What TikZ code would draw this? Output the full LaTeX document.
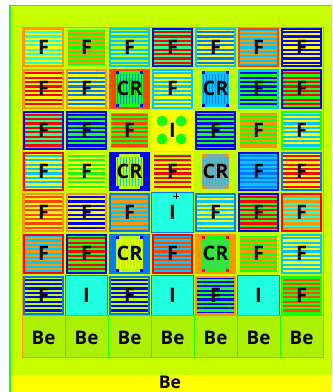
\documentclass[tikz,border=0pt]{standalone}
\usepackage{fontspec}
\setmainfont{Open Sans}

% --- Màu ---
\definecolor{cLime}{RGB}{200,255,0}
\definecolor{cBe}{RGB}{170,240,0}
\definecolor{cAqua}{RGB}{32,255,224}
\definecolor{cSky}{RGB}{0,200,255}
\definecolor{cDodg}{RGB}{0,120,255}
\definecolor{cBlue}{RGB}{0,0,255}
\definecolor{cOred}{RGB}{255,70,0}
\definecolor{cRed}{RGB}{255,0,0}
\definecolor{cOra}{RGB}{255,150,0}
\definecolor{cGrn}{RGB}{20,255,20}
\definecolor{cSgrn}{RGB}{40,255,140}
\definecolor{cYel}{RGB}{255,255,0}
\definecolor{cYgrn}{RGB}{190,255,0}
\definecolor{cGrey}{RGB}{130,170,170}

% --- Ô nhiên liệu ---
\newcommand{\fuelcell}[5]{%
  \pgfmathsetmacro{\xa}{22+(#2-1)*43}%
  \pgfmathsetmacro{\ya}{27+(#1-1)*41.25}%
  \fill[#3] (\xa+1,\ya+1) rectangle (\xa+42,\ya+40.25);
  \fill[#4] (\xa+3,\ya+3) rectangle (\xa+40,\ya+38.25);
  \foreach \k in {0,...,7}
    \fill[#5] (\xa+3,\ya+4+\k*4.4) rectangle (\xa+40,\ya+6.2+\k*4.4);
  \node[lbl] (f#1#2) at (\xa+21.5,\ya+20.6) {F};
}
% --- Ô thanh điều khiển ---
\newcommand{\ctrlcell}[6]{%
  \pgfmathsetmacro{\xa}{22+(#2-1)*43}%
  \pgfmathsetmacro{\ya}{27+(#1-1)*41.25}%
  \fill[#3] (\xa+1,\ya+1) rectangle (\xa+42,\ya+40.25);
  \fill[#4] (\xa+8,\ya+3) rectangle (\xa+35,\ya+38.25);
  \foreach \k in {0,...,8}
    \fill[#5] (\xa+9+\k*3,\ya+6) rectangle (\xa+10.3+\k*3,\ya+35.25);
  \fill[#6] (\xa+8,\ya+3) rectangle ++(3,3);
  \fill[#6] (\xa+32,\ya+3) rectangle ++(3,3);
  \fill[#6] (\xa+8,\ya+35.25) rectangle ++(3,3);
  \fill[#6] (\xa+32,\ya+35.25) rectangle ++(3,3);
  \node[lbl] (cr#1#2) at (\xa+21.5,\ya+20.6) {CR};
}
% --- Ô chiếu xạ ---
\newcommand{\irrcell}[3]{%
  \pgfmathsetmacro{\xa}{22+(#2-1)*43}%
  \pgfmathsetmacro{\ya}{27+(#1-1)*41.25}%
  \fill[#3,draw=cDodg,line width=0.8pt] (\xa+0.5,\ya+0.5) rectangle (\xa+42.5,\ya+40.75);
  \node[lbl] (i#1#2) at (\xa+21.5,\ya+20.6) {I};
}

\begin{document}
\begin{tikzpicture}[x=0.03cm,y=-0.03cm,
    lbl/.style={font=\fontsize{17}{17}\selectfont\bfseries,inner sep=0pt},
    belbl/.style={font=\fontsize{16}{16}\selectfont\bfseries,inner sep=0pt}]
  \useasboundingbox (0,0) rectangle (332,392);
  % --- Nền ---
  \fill[cLime] (10,5) rectangle (332,392);
  \draw[cGrn,line width=1.6pt] (10,392)--(10,5.5)--(332,5.5);
  \fill[cYel] (11,375) rectangle (332,392);
  \node[belbl,font=\fontsize{15}{15}\selectfont\bfseries] (beBar) at (170,382.5) {Be};

  % --- Các ô nhiên liệu ---
  \foreach \r/\c/\fr/\bg/\st in {
      1/1/cOra/cYel/cAqua, 1/2/cYgrn/cGrn/cOra, 1/3/cSky/cYgrn/cSky,
      1/4/cBlue/cSgrn/cRed, 1/5/cSky/cYel/cDodg, 1/6/cOred/cSky/cOra,
      1/7/cBlue/cYel/cBlue,
      2/1/cOra/cYel/cRed, 2/2/cOra/cYel/cDodg, 2/4/cSky/cYel/cSky,
      2/6/cSky/cGrn/cBlue, 2/7/cBlue/cGrn/cRed,
      3/1/cBlue/cSgrn/cRed, 3/2/cBlue/cGrn/cBlue, 3/3/cYgrn/cGrn/cOred,
      3/5/cBlue/cGrn/cBlue, 3/6/cYgrn/cGrn/cOra, 3/7/cGrn/cYel/cSky,
      4/1/cRed/cYel/cSky, 4/2/cYgrn/cYel/cGrn, 4/4/cYel/cYgrn/cRed,
      4/6/cBlue/cSky/cDodg, 4/7/cDodg/cYel/cRed,
      5/1/cOra/cYel/cOred, 5/2/cOra/cYel/cBlue, 5/3/cDodg/cSky/cOra,
      5/5/cDodg/cYel/cSky, 5/6/cBlue/cGrn/cRed, 5/7/cRed/cAqua/cOra,
      6/1/cRed/cSky/cOra, 6/2/cBlue/cGrn/cRed, 6/4/cRed/cSky/cOred,
      6/6/cYgrn/cGrn/cOra, 6/7/cSky/cYel/cSky,
      7/1/cDodg/cYgrn/cBlue, 7/3/cDodg/cYgrn/cBlue, 7/5/cOra/cBlue/cGrn,
      7/7/cGrn/cGrn/cOred}
    {\fuelcell{\r}{\c}{\fr}{\bg}{\st}}

  % --- Thanh điều khiển ---
  \ctrlcell{2}{3}{cOred}{cGrn}{cDodg}{cBlue}
  \ctrlcell{2}{5}{cYgrn}{cSky}{cDodg}{cBlue}
  \ctrlcell{4}{3}{cBlue}{cYgrn}{cSky}{cBlue}
  \ctrlcell{4}{5}{cYgrn}{cGrey}{cSky}{cOra}
  \ctrlcell{6}{3}{cDodg}{cYgrn}{cYel}{cBlue}
  \ctrlcell{6}{5}{cOra}{cGrn}{cGrey}{cRed}

  % --- Kênh chiếu xạ ---
  \fill[cYel] (151,109.5) rectangle (194,150.75);
  \foreach \px/\py in {162/121, 181/121, 162/139, 181/139}
    \fill[cGrn] (\px,\py) circle (5.5);
  \node[lbl] (i34) at (172.5,130.1) {I};
  \irrcell{5}{4}{cAqua}
  \draw[black,line width=0.4pt] (173,196)--(179,196) (176,193)--(176,199);
  \irrcell{7}{2}{cAqua}
  \irrcell{7}{4}{cAqua}
  \irrcell{7}{6}{cAqua}

  % --- Hàng Be ---
  \fill[cBe] (22,315) rectangle (323,357);
  \foreach \c in {1,...,7}
    \node[belbl] (be\c) at ({22+(\c-0.5)*43},338) {Be};
  \foreach \c in {1,...,6}
    \draw[cGrn,line width=0.8pt] ({22+\c*43},315)--({22+\c*43},357);
  \draw[cGrn,line width=0.8pt] (22,315)--(323,315);
  \draw[cOra,line width=0.8pt] (22,27) rectangle (323,357);
\end{tikzpicture}
\end{document}
